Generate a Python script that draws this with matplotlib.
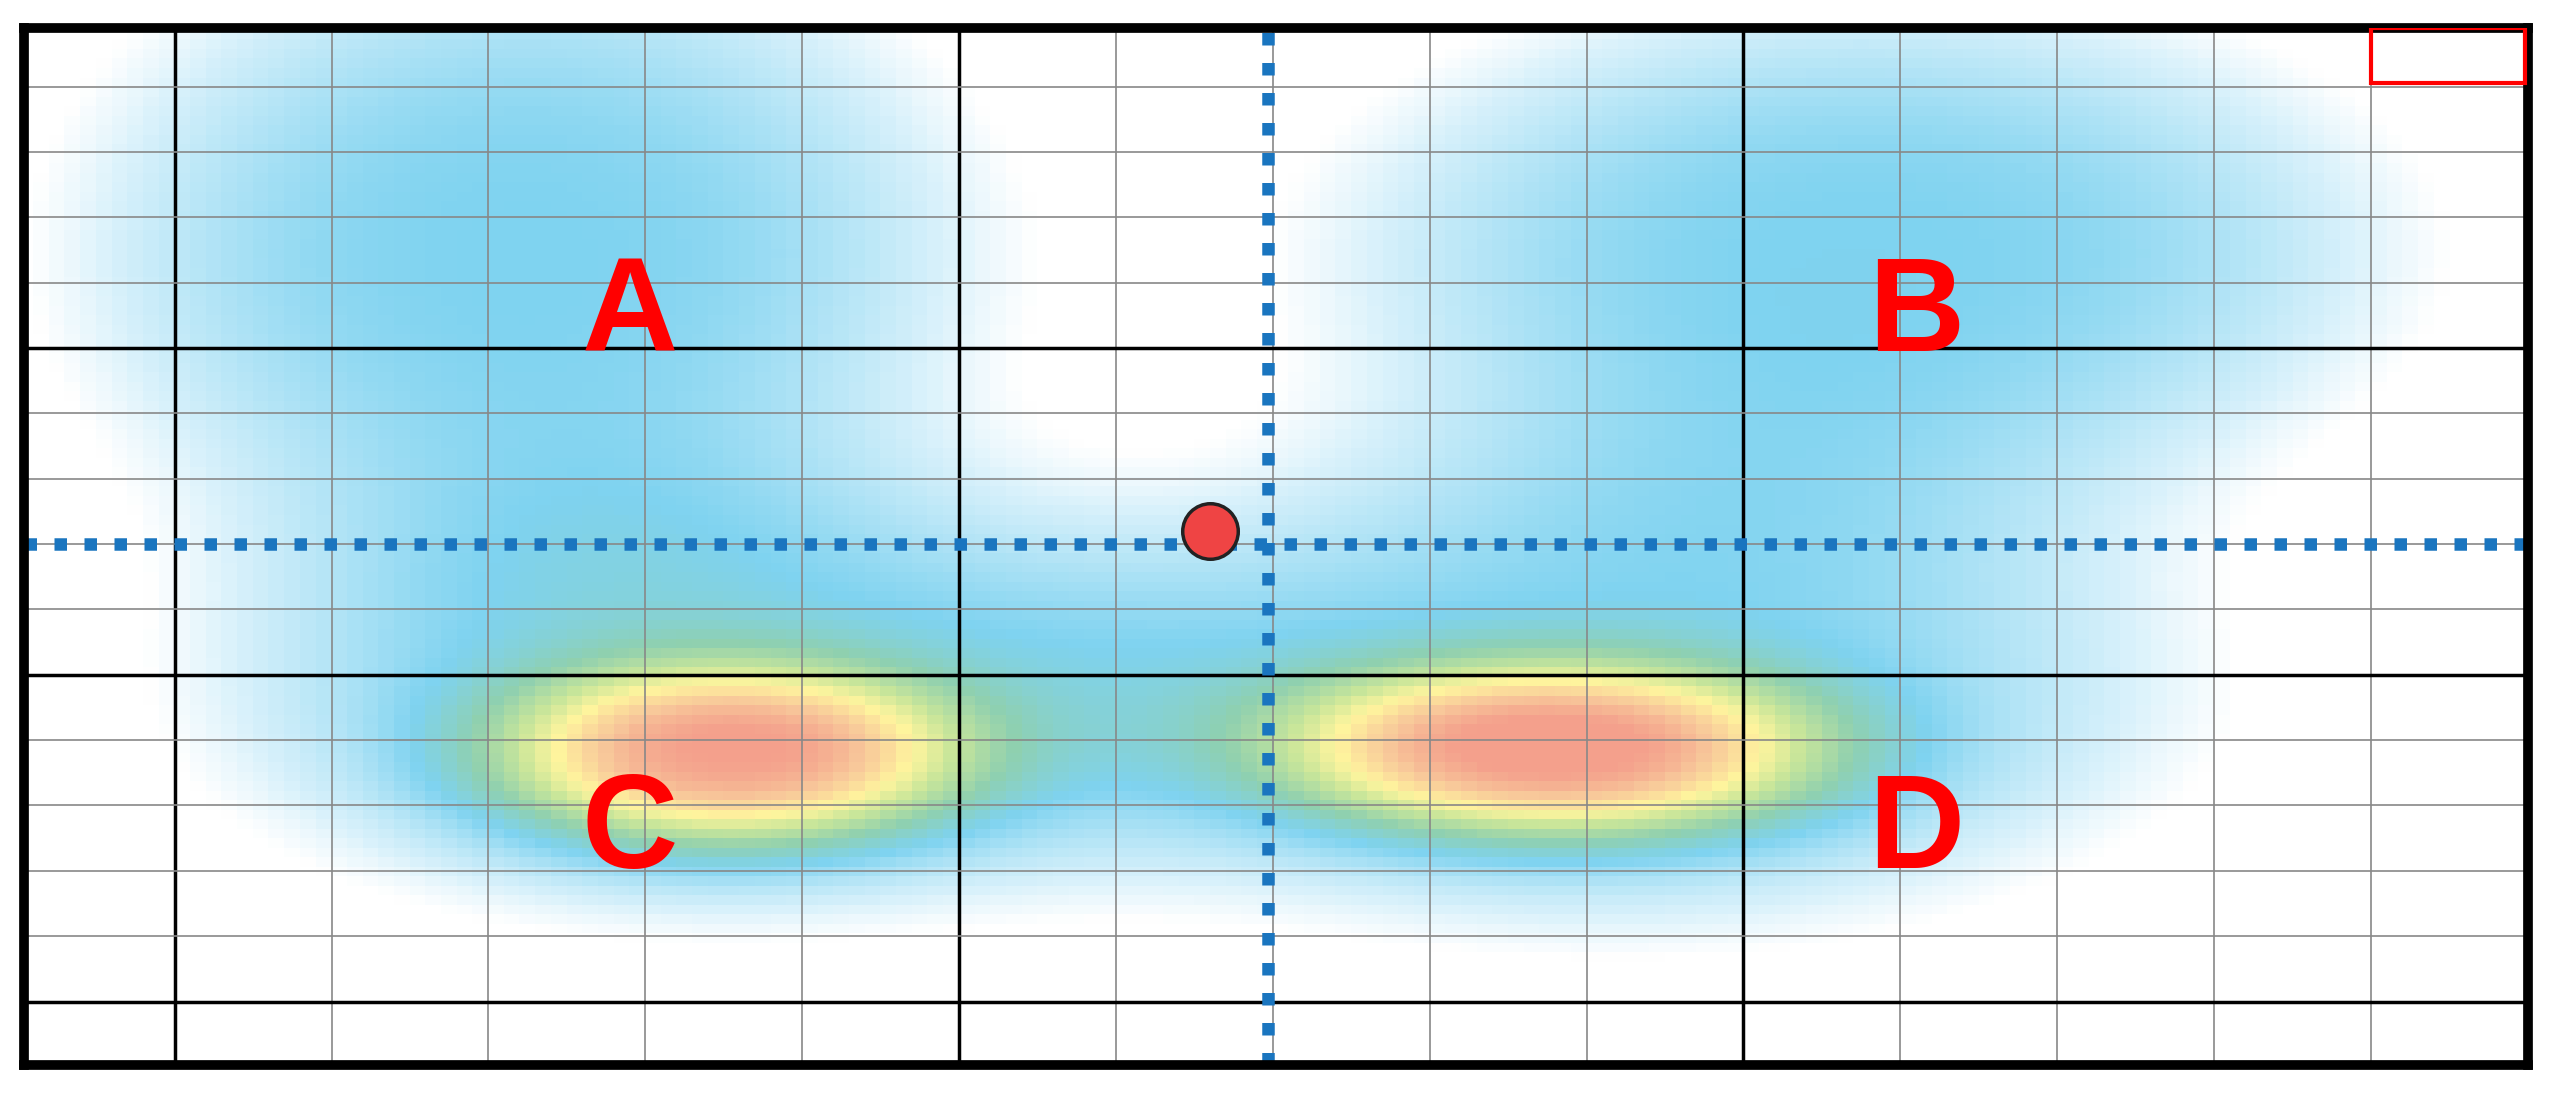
import numpy as np
import matplotlib
matplotlib.use("Agg")
import matplotlib.pyplot as plt
from matplotlib.colors import LinearSegmentedColormap
from matplotlib.patches import Rectangle

# blob parameters (grid units: columns across, rows down)
blob_names = ["A", "B", "C", "D", "Chalo", "Dhalo"]
blob_cx = [3.2, 11.8, 4.5, 9.8, 4.4, 10.2]
blob_cy = [3.5, 3.5, 11.3, 11.2, 10.5, 10.3]
blob_sx = [2.3, 2.7, 1.3, 1.5, 2.6, 2.9]
blob_sy = [4.0, 3.2, 1.2, 1.15, 2.7, 3.0]
blob_amp = [0.42, 0.42, 0.6, 0.62, 0.38, 0.4]
labels = ["A", "B", "C", "D"]
label_x = [3.9, 12.1, 3.9, 12.1]
label_y = [5.05, 5.05, 12.95, 12.95]

fig = plt.figure(figsize=(25.49, 10.98), dpi=100)
ax = fig.add_axes([0.0096, 0.0298, 0.9821, 0.9449])
xs = np.linspace(0, 16, 160)
ys = np.linspace(0, 16, 110)
X, Y = np.meshgrid(xs, ys)
Z = np.zeros_like(X)
for cx, cy, sx, sy, a in zip(blob_cx, blob_cy, blob_sx, blob_sy, blob_amp):
    r = ((X - cx) / sx) ** 2 + ((Y - cy) / sy) ** 2
    Z += a * np.exp(-0.5 * r ** 1.4)
Z = np.clip(Z, 0, 1)
cmap = LinearSegmentedColormap.from_list("h", [
    (0, "#ffffff"), (0.12, "#ffffff"), (0.2, "#d8f1fb"), (0.32, "#a9e1f5"),
    (0.42, "#7fd3f0"), (0.58, "#8fd0b0"), (0.72, "#c9e69a"), (0.82, "#fff59e"),
    (0.92, "#f8c79a"), (1.0, "#f4a08c")])
ax.imshow(Z, cmap=cmap, vmin=0, vmax=1, extent=[0, 16, 16, 0],
          interpolation="nearest", aspect="auto", zorder=0)
for i in range(17):
    lw, c = (2.5, "black") if i in (1, 6, 11) else (1.2, "#888888")
    ax.axvline(i, color=c, lw=lw, zorder=1)
for j in range(17):
    lw, c = (2.5, "black") if j in (5, 10, 15) else (1.2, "#888888")
    ax.axhline(j, color=c, lw=lw, zorder=1)
ax.axvline(7.97, color="#1a75bf", lw=9, ls=(0, (1, 1.4)), zorder=2)
ax.axhline(8.0, color="#1a75bf", lw=9, ls=(0, (1, 1.4)), zorder=2)
ax.plot([7.6], [7.8], "o", ms=40, mfc="#ef4444", mec="#222222", mew=2.5, zorder=3)
ax.add_patch(Rectangle((15.0, 0.1), 0.98, 0.85, fill=False, edgecolor="red", lw=3, zorder=3))
for t, x, y in zip(labels, label_x, label_y):
    ax.text(x, y, t, color="red", fontsize=96, fontweight="bold", family="Liberation Sans",
            ha="center", va="baseline", zorder=4)
ax.set_xlim(0.042, 16.0)
ax.set_ylim(15.975, 0.1)
ax.set_xticks([]); ax.set_yticks([])
for s in ax.spines.values():
    s.set_linewidth(7); s.set_color("black")
fig.savefig("out.png", dpi=100, facecolor="white")
